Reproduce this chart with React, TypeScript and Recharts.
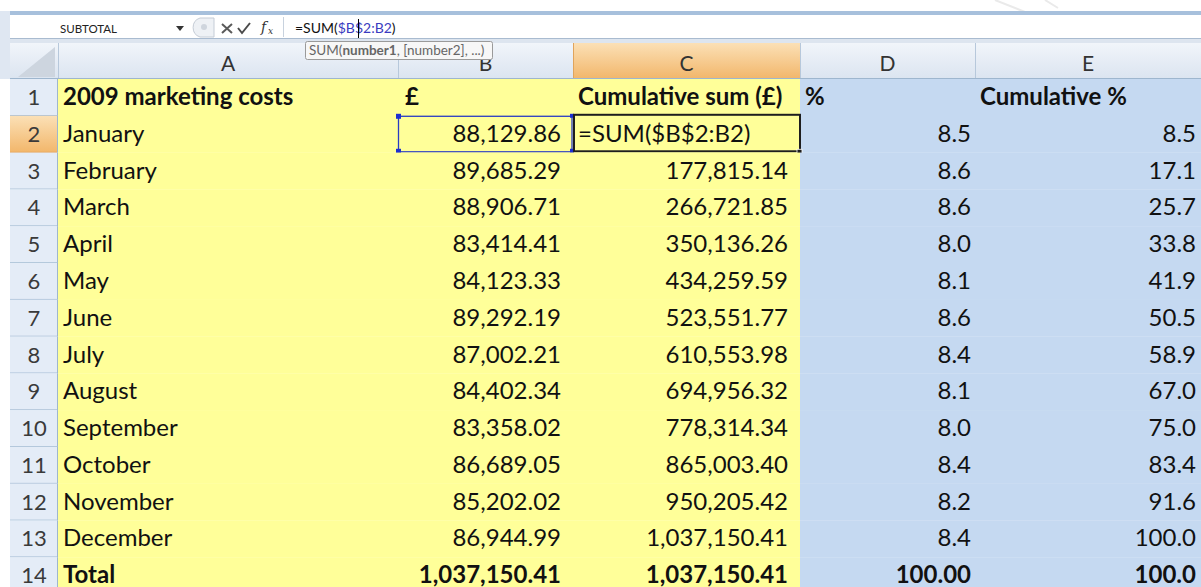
import { BarChart, Bar, XAxis, YAxis } from 'recharts'

const rowNumbers = [1, 2, 3, 4, 5, 6, 7, 8, 9, 10, 11, 12, 13, 14]
const columnLetters = ['A', 'B', 'C', 'D', 'E']
const headers = ['2009 marketing costs', '£', 'Cumulative sum (£)', '%', 'Cumulative %']
const months = [
  'January', 'February', 'March', 'April', 'May', 'June',
  'July', 'August', 'September', 'October', 'November', 'December',
]
const costs = [
  88129.86, 89685.29, 88906.71, 83414.41, 84123.33, 89292.19,
  87002.21, 84402.34, 83358.02, 86689.05, 85202.02, 86944.99,
]
const cumulative = [
  88129.86, 177815.14, 266721.85, 350136.26, 434259.59, 523551.77,
  610553.98, 694956.32, 778314.34, 865003.4, 950205.42, 1037150.41,
]
const percent = [8.5, 8.6, 8.6, 8.0, 8.1, 8.6, 8.4, 8.1, 8.0, 8.4, 8.2, 8.4]
const cumulativePercent = [8.5, 17.1, 25.7, 33.8, 41.9, 50.5, 58.9, 67.0, 75.0, 83.4, 91.6, 100.0]
const totalLabel = 'Total'
const totalCost = 1037150.41
const totalPercent = 100
const activeFormula = '=SUM($B$2:B2)'
const nameBox = 'SUBTOTAL'

const FONT = 'Lato, "Open Sans", sans-serif'
const WIDTH = 1201
const HEIGHT = 594
const TOP = 79

// column edges: row header, A, B, C, D, E
const EDGES = [10, 58, 398, 573, 800, 975, 1201]
const HEADER_X = [63, 405, 578, 805, 980]
const VALUE_X = [63, 561, 788, 971, 1196]

const money = (n: number) =>
  n.toLocaleString('en-US', { minimumFractionDigits: 2, maximumFractionDigits: 2 })

type SheetLine = { row: number; cells: string[]; bold: boolean }

const sheet: SheetLine[] = rowNumbers.map((row, i) => {
  if (i === 0) return { row, cells: headers, bold: true }
  if (i === rowNumbers.length - 1)
    return {
      row,
      cells: [totalLabel, money(totalCost), money(totalCost), totalPercent.toFixed(2), totalPercent.toFixed(1)],
      bold: true,
    }
  const m = i - 1
  return {
    row,
    cells: [
      months[m],
      money(costs[m]),
      m === 0 ? activeFormula : money(cumulative[m]),
      percent[m].toFixed(1),
      cumulativePercent[m].toFixed(1),
    ],
    bold: false,
  }
})

function SheetRow(props: any) {
  const { y, height, index } = props
  const line = sheet[index]
  if (!line) return null
  const top = y
  const bottom = y + height
  const active = line.row === 2
  const base = top + 26
  return (
    <g>
      <rect x={EDGES[0]} y={top} width={EDGES[1] - EDGES[0]} height={height} fill={active ? 'url(#hdrActive)' : '#e4ecf7'} />
      <line x1={EDGES[0]} x2={EDGES[1]} y1={bottom - 0.5} y2={bottom - 0.5} stroke={active ? '#e2a35a' : '#a9bfd6'} />
      <line x1={EDGES[1] - 0.5} x2={EDGES[1] - 0.5} y1={top} y2={bottom} stroke="#9eb6ce" />
      <text x={34} y={base} textAnchor="middle" fontFamily={FONT} fontSize={22} fill="#3a3a3a">
        {line.row}
      </text>
      <rect x={EDGES[1]} y={top} width={EDGES[4] - EDGES[1]} height={height} fill="#ffff99" />
      <rect x={EDGES[4]} y={top} width={EDGES[6] - EDGES[4]} height={height} fill="#c5d9f1" />
      {line.cells.map((c, ci) => {
        const isHeader = index === 0
        const leftText = isHeader || ci === 0 || c === activeFormula
        const x = leftText ? HEADER_X[ci] : VALUE_X[ci]
        return (
          <text
            key={ci}
            x={x}
            y={base}
            textAnchor={leftText ? 'start' : 'end'}
            fontFamily={FONT}
            fontSize={24}
            fontWeight={line.bold ? 700 : 400}
            fill="#111"
          >
            {c}
          </text>
        )
      })}
      {active && (
        <g>
          <rect x={398.5} y={top + 0.5} width={173.5} height={height - 1.5} fill="none" stroke="#2a3cc4" strokeWidth={1.3} />
          <rect x={396} y={top - 2} width={5} height={5} fill="#1d2fd0" />
          <rect x={396} y={bottom - 4} width={5} height={5} fill="#1d2fd0" />
          <rect x={570} y={top - 2} width={4} height={4} fill="#1d2fd0" />
          <rect x={570} y={bottom - 4} width={4} height={4} fill="#1d2fd0" />
          <rect x={574} y={top - 1} width={226} height={height - 0.5} fill="none" stroke="#1e1e1e" strokeWidth={2} />
          <rect x={797} y={bottom - 3.5} width={5} height={5} fill="#1e1e1e" stroke="#fff" strokeWidth={0.8} />
        </g>
      )}
    </g>
  )
}

function SheetChrome() {
  return (
    <svg width={WIDTH} height={TOP} style={{ position: 'absolute', left: 0, top: 0 }}>
      <defs>
        <linearGradient id="hdr" x1="0" y1="0" x2="0" y2="1">
          <stop offset="0" stopColor="#f1f5fa" />
          <stop offset="1" stopColor="#dbe4f0" />
        </linearGradient>
        <linearGradient id="hdrActive" x1="0" y1="0" x2="0" y2="1">
          <stop offset="0" stopColor="#fbe0b6" />
          <stop offset="1" stopColor="#f2b66a" />
        </linearGradient>
      </defs>
      <rect x={0} y={0} width={WIDTH} height={TOP} fill="#fff" />
      <path d="M995,0 L1045,20 M1045,0 L1058,8" stroke="#eaeaea" strokeWidth={2} fill="none" />
      <rect x={0} y={11} width={10} height={68} fill="#dfe7f2" />
      <rect x={10} y={11} width={WIDTH - 10} height={4} fill="#a7c0dc" />
      <rect x={10} y={15} width={WIDTH - 10} height={24} fill="#fff" />
      <rect x={10} y={38.5} width={WIDTH - 10} height={4.5} fill="#dde5ef" />
      <line x1={10} x2={WIDTH} y1={38.5} y2={38.5} stroke="#a9bbd0" />

      {/* name box and buttons */}
      <text x={60} y={33} fontFamily={FONT} fontSize={11.5} fill="#222">{nameBox}</text>
      <path d="M176,26 L184,26 L180,31 Z" fill="#333" />
      <path d="M200,18 A10,10 0 0 0 200,37 L214,37 L214,18 Z" fill="#eef1f5" stroke="#c5ccd6" />
      <circle cx={204} cy={27} r={3} fill="#cfd5dd" />
      <path d="M222,24 L232,33 M232,24 L222,33" stroke="#5a5a5a" strokeWidth={2} />
      <path d="M238,28 L242,33 L250,23" stroke="#4a4a4a" strokeWidth={2} fill="none" />
      <text x={261} y={32} fontFamily="DejaVu Serif, serif" fontStyle="italic" fontSize={14} fill="#333">f</text>
      <text x={268} y={34} fontFamily="DejaVu Serif, serif" fontStyle="italic" fontSize={9} fill="#333">x</text>
      <line x1={283.5} x2={283.5} y1={17} y2={37} stroke="#c8d2de" />
      <text x={295} y={33} fontFamily={FONT} fontSize={14} fill="#111">
        =SUM(<tspan fill="#3a3cc0">$B$2:B2</tspan>)
      </text>
      <line x1={358.5} x2={358.5} y1={19} y2={38} stroke="#000" />

      {/* column headers */}
      <rect x={EDGES[0]} y={43} width={WIDTH - EDGES[0]} height={TOP - 43} fill="url(#hdr)" />
      <path d="M18,77 L55,77 L55,47 Z" fill="#cdd5df" />
      {columnLetters.map((l, i) => {
        const x0 = EDGES[i + 1]
        const x1 = EDGES[i + 2]
        const active = l === 'C'
        return (
          <g key={l}>
            {active && <rect x={x0} y={43} width={x1 - x0} height={TOP - 43} fill="url(#hdrActive)" />}
            <line x1={x0 + 0.5} x2={x0 + 0.5} y1={43} y2={TOP} stroke={active ? '#e0a45c' : '#b7c8db'} />
            <text x={(x0 + x1) / 2} y={71} textAnchor="middle" fontFamily={FONT} fontSize={21} fill="#333">
              {l}
            </text>
          </g>
        )
      })}
      <line x1={EDGES[0]} x2={WIDTH} y1={TOP - 0.5} y2={TOP - 0.5} stroke="#9eb6ce" />

      {/* function tooltip */}
      <rect x={305.5} y={41.5} width={187} height={18} rx={2} fill="#f7f7f7" stroke="#9a9a9a" />
      <text x={309} y={55} fontFamily={FONT} fontSize={13.5} fill="#666">
        SUM(<tspan fontWeight={700}>number1</tspan>, [number2], ...)
      </text>
    </svg>
  )
}

export default function App() {
  return (
    <div style={{ position: 'absolute', left: 0, top: 0, width: WIDTH, height: 587, overflow: 'hidden', background: '#fff' }}>
      <BarChart
        width={WIDTH}
        height={HEIGHT}
        data={sheet}
        layout="vertical"
        margin={{ top: TOP, right: 0, bottom: 0, left: 0 }}
        barCategoryGap={0}
        barGap={0}
      >
        <XAxis type="number" hide domain={[0, 'dataMax']} />
        <YAxis type="category" dataKey="row" hide />
        <Bar dataKey="row" isAnimationActive={false} shape={(p: any) => <SheetRow {...p} />} />
      </BarChart>
      <SheetChrome />
    </div>
  )
}
